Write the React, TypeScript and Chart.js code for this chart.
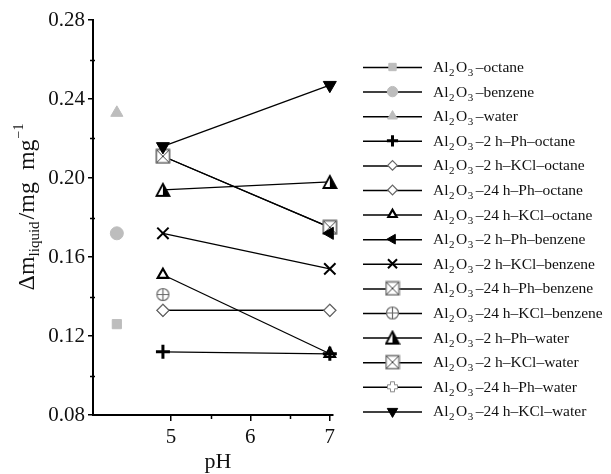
import React, { useEffect, useRef } from "react";
import { Chart, registerables } from "chart.js";
import { drawPoint } from "chart.js/helpers";

Chart.register(...registerables);

// ---- data ----
const phSingle = [4.32];
const phPair = [4.9, 7];
const phKcl24Benzene = [4.9];
const phPh2Benzene = [7];

const octane = [0.126];
const benzene = [0.172];
const water = [0.233];
const ph2Octane = [0.112, 0.111];
const kcl2Octane = [0.133, 0.133];
const ph24Octane = [0.133, 0.133];
const kcl24Octane = [0.151, 0.111];
const ph2Benzene = [0.172];
const kcl2Benzene = [0.172, 0.154];
const ph24Benzene = [0.211, 0.175];
const kcl24Benzene = [0.141];
const ph2Water = [0.194, 0.198];
const kcl2Water = [0.211, 0.175];
const ph24Water: number[] = [];
const kcl24Water = [0.216, 0.247];

const seriesNames = [
  "octane",
  "benzene",
  "water",
  "2 h–Ph–octane",
  "2 h–KCl–octane",
  "24 h–Ph–octane",
  "24 h–KCl–octane",
  "2 h–Ph–benzene",
  "2 h–KCl–benzene",
  "24 h–Ph–benzene",
  "24 h–KCl–benzene",
  "2 h–Ph–water",
  "2 h–KCl–water",
  "24 h–Ph–water",
  "24 h–KCl–water",
];

const xTicks = [5, 6, 7];
const xMinor = [5.5, 6.5];
const yMinor = [0.1, 0.14, 0.18, 0.22, 0.26];

const FONT = "'Liberation Serif', 'Times New Roman', serif";
const GRAY = "#bdbdbd";

function mk(size: number, draw: (c: CanvasRenderingContext2D) => void) {
  const cv = document.createElement("canvas");
  cv.width = size;
  cv.height = size;
  const c = cv.getContext("2d")!;
  draw(c);
  return cv;
}

function pts(xs: number[], ys: number[]) {
  return ys.map((y, i) => ({ x: xs[i], y }));
}

export default function App() {
  const ref = useRef<HTMLCanvasElement>(null);

  useEffect(() => {
    const crossSquare = mk(16, (c) => {
      c.fillStyle = "#fff";
      c.fillRect(1.5, 1.5, 13, 13);
      c.strokeStyle = "#7a7a7a";
      c.lineWidth = 1.6;
      c.strokeRect(1.5, 1.5, 13, 13);
      c.strokeStyle = "#444";
      c.lineWidth = 1;
      c.beginPath();
      c.moveTo(2, 2);
      c.lineTo(14, 14);
      c.moveTo(14, 2);
      c.lineTo(2, 14);
      c.stroke();
    });
    const circlePlus = mk(15, (c) => {
      c.strokeStyle = "#6a6a6a";
      c.lineWidth = 1.2;
      c.fillStyle = "#fff";
      c.beginPath();
      c.arc(7.5, 7.5, 6, 0, Math.PI * 2);
      c.fill();
      c.stroke();
      c.beginPath();
      c.moveTo(1.5, 7.5);
      c.lineTo(13.5, 7.5);
      c.moveTo(7.5, 1.5);
      c.lineTo(7.5, 13.5);
      c.stroke();
    });
    const halfTri = mk(16, (c) => {
      c.fillStyle = "#fff";
      c.beginPath();
      c.moveTo(8, 2);
      c.lineTo(14.5, 14);
      c.lineTo(1.5, 14);
      c.closePath();
      c.fill();
      c.fillStyle = "#000";
      c.beginPath();
      c.moveTo(8, 2);
      c.lineTo(14.5, 14);
      c.lineTo(8, 14);
      c.closePath();
      c.fill();
      c.strokeStyle = "#000";
      c.lineWidth = 1.8;
      c.beginPath();
      c.moveTo(8, 2);
      c.lineTo(14.5, 14);
      c.lineTo(1.5, 14);
      c.closePath();
      c.stroke();
    });
    const openPlus = mk(13, (c) => {
      c.strokeStyle = "#8a8a8a";
      c.lineWidth = 1;
      c.fillStyle = "#fff";
      c.beginPath();
      c.moveTo(4.5, 1.5);
      c.lineTo(8.5, 1.5);
      c.lineTo(8.5, 4.5);
      c.lineTo(11.5, 4.5);
      c.lineTo(11.5, 8.5);
      c.lineTo(8.5, 8.5);
      c.lineTo(8.5, 11.5);
      c.lineTo(4.5, 11.5);
      c.lineTo(4.5, 8.5);
      c.lineTo(1.5, 8.5);
      c.lineTo(1.5, 4.5);
      c.lineTo(4.5, 4.5);
      c.closePath();
      c.fill();
      c.stroke();
    });

    const base = {
      showLine: true,
      clip: false,
      borderColor: "#000",
      borderWidth: 1.3,
      pointBorderColor: "#000",
      pointBackgroundColor: "#000",
      pointBorderWidth: 1,
      pointRadius: 6,
      pointRotation: 0,
      order: 0,
    };

    const styles: any[] = [
      { data: pts(phSingle, octane), pointStyle: "rect", pointRadius: 6.5, pointBorderColor: GRAY, pointBackgroundColor: GRAY },
      { data: pts(phSingle, benzene), pointStyle: "circle", pointRadius: 6.5, pointBorderColor: GRAY, pointBackgroundColor: GRAY },
      { data: pts(phSingle, water), pointStyle: "triangle", pointRadius: 7, pointBorderColor: GRAY, pointBackgroundColor: GRAY },
      { data: pts(phPair, ph2Octane), pointStyle: "cross", pointRadius: 7, pointBorderWidth: 3, order: -1 },
      { data: pts(phPair, kcl2Octane), pointStyle: "rectRot", pointRadius: 6, pointBorderColor: "#666", pointBackgroundColor: "#fff", pointBorderWidth: 1.2 },
      { data: pts(phPair, ph24Octane), pointStyle: "rectRot", pointRadius: 6, pointBorderColor: "#666", pointBackgroundColor: "#fff", pointBorderWidth: 1.2 },
      { data: pts(phPair, kcl24Octane), pointStyle: "triangle", pointRadius: 6, pointBackgroundColor: "#fff", pointBorderWidth: 2.2 },
      { data: pts(phPh2Benzene, ph2Benzene), pointStyle: "triangle", pointRotation: -90, pointRadius: 7 },
      { data: pts(phPair, kcl2Benzene), pointStyle: "crossRot", pointRadius: 8, pointBorderWidth: 2 },
      { data: pts(phPair, ph24Benzene), pointStyle: crossSquare, order: 1 },
      { data: pts(phKcl24Benzene, kcl24Benzene), pointStyle: circlePlus },
      { data: pts(phPair, ph2Water), pointStyle: halfTri },
      { data: pts(phPair, kcl2Water), pointStyle: crossSquare, order: 1 },
      { data: pts(phPair, ph24Water), pointStyle: openPlus },
      { data: pts(phPair, kcl24Water), pointStyle: "triangle", pointRotation: 180, pointRadius: 7.5 },
    ];

    const datasets = styles.map((s, i) => ({ ...base, ...s, label: "Al2O3–" + seriesNames[i] }));

    const extras = {
      id: "extras",
      afterDraw(chart: any) {
        const ctx: CanvasRenderingContext2D = chart.ctx;
        const xs = chart.scales.x;
        const ys = chart.scales.y;
        const ca = chart.chartArea;
        ctx.save();
        // minor ticks
        ctx.strokeStyle = "#000";
        ctx.lineWidth = 1.5;
        ctx.beginPath();
        yMinor.forEach((v) => {
          const py = Math.round(ys.getPixelForValue(v)) + 0.5;
          ctx.moveTo(ca.left - 3, py);
          ctx.lineTo(ca.left + 2, py);
        });
        xMinor.forEach((v) => {
          const px = Math.round(xs.getPixelForValue(v)) + 0.5;
          ctx.moveTo(px, ca.bottom);
          ctx.lineTo(px, ca.bottom + 4);
        });
        ctx.stroke();

        // x title
        ctx.fillStyle = "#111";
        ctx.font = `22px ${FONT}`;
        ctx.textAlign = "center";
        ctx.textBaseline = "alphabetic";
        ctx.fillText("pH", (ca.left + ca.right) / 2 + 5, 468);

        // y title
        const parts: [string, number, number, number][] = [
          ["Δm", 24, 0, 0],
          ["liquid", 15, 5, 2],
          ["/mg", 24, 0, 12],
          ["mg", 24, 0, 1],
          ["−1", 14, -11, 0],
        ];
        let total = 0;
        parts.forEach(([t, s, , g]) => {
          ctx.font = `${s}px ${FONT}`;
          total += ctx.measureText(t).width + g;
        });
        ctx.translate(34, 207);
        ctx.rotate(-Math.PI / 2);
        ctx.textAlign = "left";
        let cx = -total / 2;
        parts.forEach(([t, s, off, g]) => {
          ctx.font = `${s}px ${FONT}`;
          ctx.fillText(t, cx, off);
          cx += ctx.measureText(t).width + g;
        });
        ctx.setTransform(1, 0, 0, 1, 0, 0);

        // legend
        const lx0 = 363;
        const lx1 = 422;
        const tx = 433;
        chart.data.datasets.forEach((ds: any, i: number) => {
          const cy = 67 + i * 24.6;
          ctx.strokeStyle = "#000";
          ctx.lineWidth = 1.5;
          ctx.beginPath();
          ctx.moveTo(lx0, cy + 0.5);
          ctx.lineTo(lx1, cy + 0.5);
          ctx.stroke();
          ctx.fillStyle = ds.pointBackgroundColor;
          ctx.strokeStyle = ds.pointBorderColor;
          ctx.lineWidth = ds.pointBorderWidth;
          drawPoint(
            ctx,
            {
              pointStyle: ds.pointStyle,
              rotation: ds.pointRotation,
              radius: ds.pointRadius * 0.8,
              borderWidth: ds.pointBorderWidth,
            } as any,
            (lx0 + lx1) / 2,
            cy
          );
          // text
          ctx.fillStyle = "#111";
          ctx.textAlign = "left";
          const bl = cy + 5;
          let x = tx;
          const seg: [string, number, number, number][] = [
            ["Al", 15.5, 0, 0.5],
            ["2", 11, 4, 1.5],
            ["O", 15.5, 0, 0.5],
            ["3", 11, 4, 2.5],
            ["–" + seriesNames[i], 15.5, 0, 0],
          ];
          seg.forEach(([t, s, off, gap]) => {
            ctx.font = `${s}px ${FONT}`;
            ctx.fillText(t, x, bl + off);
            x += ctx.measureText(t).width + gap;
          });
        });
        ctx.restore();
      },
    };

    const chart = new Chart(ref.current!, {
      type: "scatter",
      data: { datasets },
      options: {
        animation: false,
        responsive: false,
        layout: { padding: { left: 0, right: 278, top: 20, bottom: 0 } },
        plugins: { legend: { display: false }, tooltip: { enabled: false } },
        scales: {
          x: {
            type: "linear",
            min: 4.02,
            max: 7.04,
            afterFit: (s: any) => {
              s.height = 59;
            },
            afterBuildTicks: (s: any) => {
              s.ticks = xTicks.map((v) => ({ value: v }));
            },
            border: { display: true, color: "#000", width: 2 },
            grid: { display: true, drawOnChartArea: false, color: "#000", lineWidth: 1.5, tickLength: 6 },
            ticks: { color: "#111", font: { family: FONT, size: 21 }, padding: 4, maxRotation: 0 },
          },
          y: {
            type: "linear",
            min: 0.08,
            max: 0.28,
            afterFit: (s: any) => {
              s.width = 93;
            },
            border: { display: true, color: "#000", width: 2 },
            grid: { display: true, drawOnChartArea: false, color: "#000", lineWidth: 1.5, tickLength: 5 },
            ticks: {
              stepSize: 0.04,
              color: "#111",
              font: { family: FONT, size: 21 },
              padding: 3,
              callback: (v: any) => Number(v).toFixed(2),
            },
          },
        },
      } as any,
      plugins: [extras],
    });
    return () => chart.destroy();
  }, []);

  return (
    <div style={{ position: "fixed", left: 0, top: 0, width: 611, height: 474, background: "#fff" }}>
      <canvas ref={ref} width={611} height={474} />
    </div>
  );
}
